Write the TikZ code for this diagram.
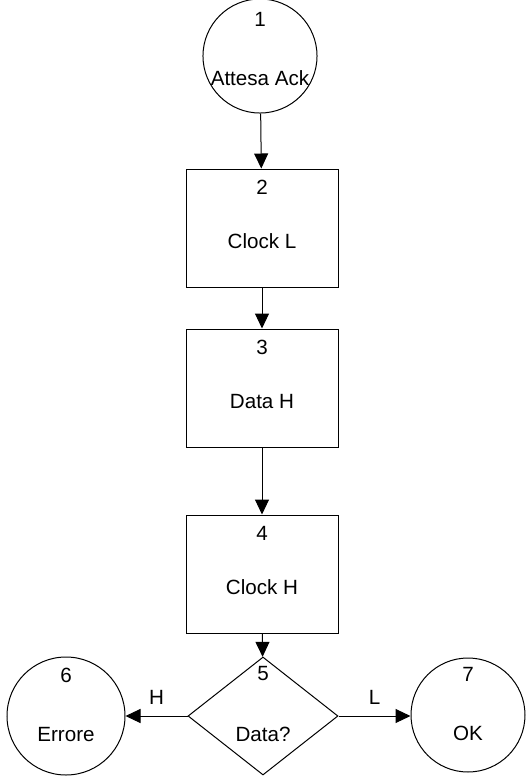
\documentclass[tikz,border=0pt]{standalone}
\usepackage{fontspec}
\setmainfont{Liberation Sans}
\usetikzlibrary{shapes.geometric,arrows.meta}
\begin{document}
\begin{tikzpicture}[
    x=0.5pt, y=-0.5pt,
    >={Triangle[length=7.5pt,width=7pt]},
    font=\fontsize{10.3}{12.4}\selectfont,
    every node/.style={line width=0.5pt},
    num/.style={anchor=north, inner sep=3.5pt},
    statebox/.style={draw, rectangle, minimum width=76pt, minimum height=59pt,
                     text height=20pt, text depth=0pt},
    statecirc/.style={draw, circle, minimum size=#1, inner sep=0pt,
                      text height=25pt, text depth=0pt},
    testnode/.style={draw, diamond, minimum width=75pt, minimum height=59pt,
                     inner sep=0pt, text height=25pt, text depth=0pt},
    flow/.style={->, line width=0.5pt},
]
\useasboundingbox (0,0) rectangle (526,778);

% states along the main column
\node[statecirc=57pt, text height=29pt,
      label={[num, yshift=-3pt]north:1}] (s1) at (260,56) {Attesa Ack};
\node[statebox, label={[num, yshift=-2pt]north:2}] (s2) at (262,228) {Clock L};
\node[statebox, label={[num, yshift=-2pt]north:3}] (s3) at (262,388) {Data H};
\node[statebox, label={[num, yshift=-2pt]north:4}] (s4) at (262,574) {Clock H};

% decision and its two outcomes
\node[testnode, label={[num, yshift=-1pt]north:5}] (s5) at (263,716) {Data?};
\node[statecirc=59pt, label={[num, yshift=-2pt]north:6}] (s6) at (66,716) {Errore};
\node[statecirc=57pt, label={[num, yshift=-1pt]north:7}] (s7) at (468,715) {OK};

% connectors
\draw[flow] (s1) -- (s2);
\draw[flow] (s2) -- (s3);
\draw[flow] (s3) -- (s4);
\draw[flow] (s4) -- (s5);
\draw[flow] (s5.west) -- node[above=2pt] {H} (s6.east |- s5.west);
\draw[flow] (s5.east) -- node[above=2pt] {L} (s7.west |- s5.east);
\end{tikzpicture}
\end{document}
